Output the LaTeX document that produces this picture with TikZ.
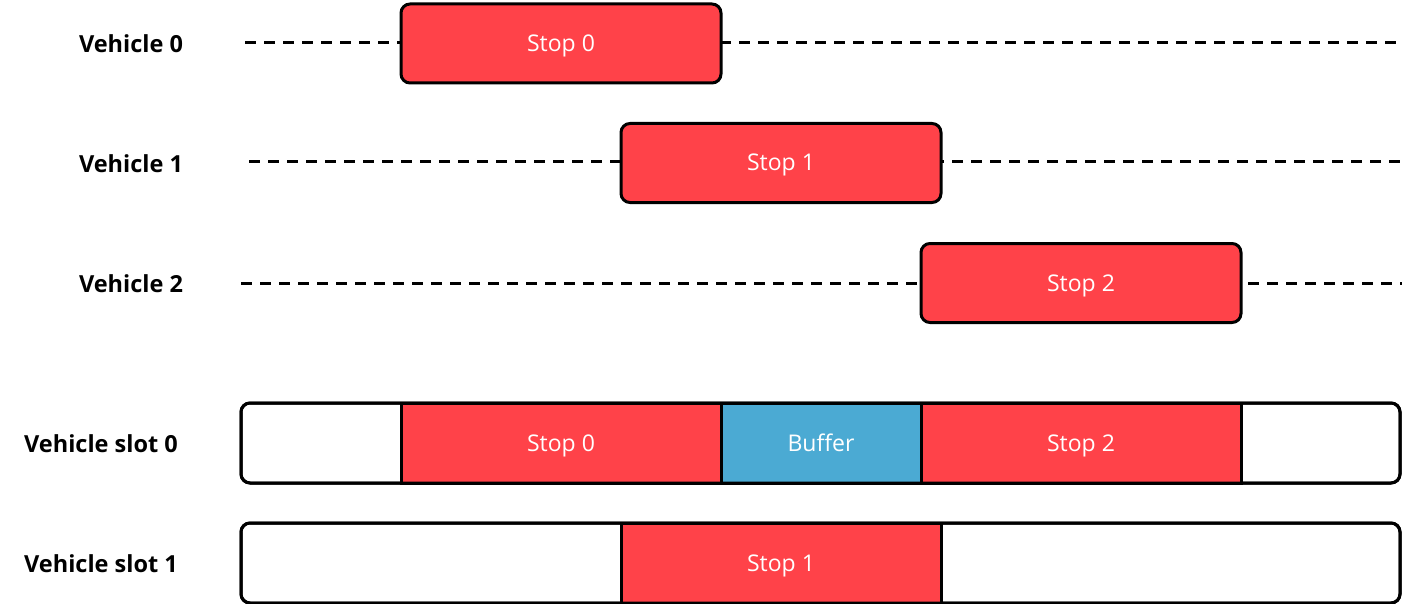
\documentclass[tikz,border=0pt]{standalone}
\usepackage{fontspec}
\setmainfont{Open Sans}
\definecolor{stopred}{HTML}{FF4249}
\definecolor{bufblue}{HTML}{4BAAD3}
\begin{document}
\begin{tikzpicture}[x=1pt,y=-1pt,
  lbl/.style={font=\fontsize{23.5}{26}\selectfont\bfseries},
  stop/.style={draw=black,line width=3pt,fill=stopred,rounded corners=9pt,minimum width=320pt,minimum height=79pt,text=white,font=\fontsize{23}{26}\selectfont,inner sep=0pt,text height=16pt,text depth=0pt},
  seg/.style={draw=black,line width=3pt,minimum height=80pt,text=white,font=\fontsize{23}{26}\selectfont,inner sep=0pt,text height=16pt,text depth=0pt},
  slot/.style={draw=black,line width=3pt,rounded corners=9pt,minimum width=1159pt,minimum height=80pt,inner sep=0pt},
  dashline/.style={line width=3pt,dash pattern=on 11pt off 8pt}]
\useasboundingbox (0,0) rectangle (1404,604);
\coordinate (d0a) at (245,43); \coordinate (d0b) at (1402,43);
\coordinate (d1a) at (249,162); \coordinate (d1b) at (1402,162);
\coordinate (d2a) at (241,283); \coordinate (d2b) at (1402,283);
\draw[dashline] (d0a) -- (d0b);
\draw[dashline] (d1a) -- (d1b);
\draw[dashline] (d2a) -- (d2b);
\node[stop] (s0) at (561,43.5) {Stop 0};
\node[stop] (s1) at (781,163) {Stop 1};
\node[stop] (s2) at (1081,283) {Stop 2};
\node[lbl] (v0) at (131,44) {Vehicle 0};
\node[lbl] (v1) at (131,164) {Vehicle 1};
\node[lbl] (v2) at (131,284) {Vehicle 2};
\node[lbl] (vs0) at (101,444) {Vehicle slot 0};
\node[lbl] (vs1) at (101,564) {Vehicle slot 1};
\node[slot] (slot0) at (820.5,443) {};
\node[seg,fill=stopred,minimum width=320pt] (a0) at (561,443) {Stop 0};
\node[seg,fill=bufblue,minimum width=200pt] (b0) at (821,443) {Buffer};
\node[seg,fill=stopred,minimum width=320pt] (c0) at (1081,443) {Stop 2};
\node[slot] at (820.5,443) {};
\node[slot] (slot1) at (820.5,563) {};
\node[seg,fill=stopred,minimum width=320pt] (a1) at (781,563) {Stop 1};
\node[slot] at (820.5,563) {};
\end{tikzpicture}
\end{document}
